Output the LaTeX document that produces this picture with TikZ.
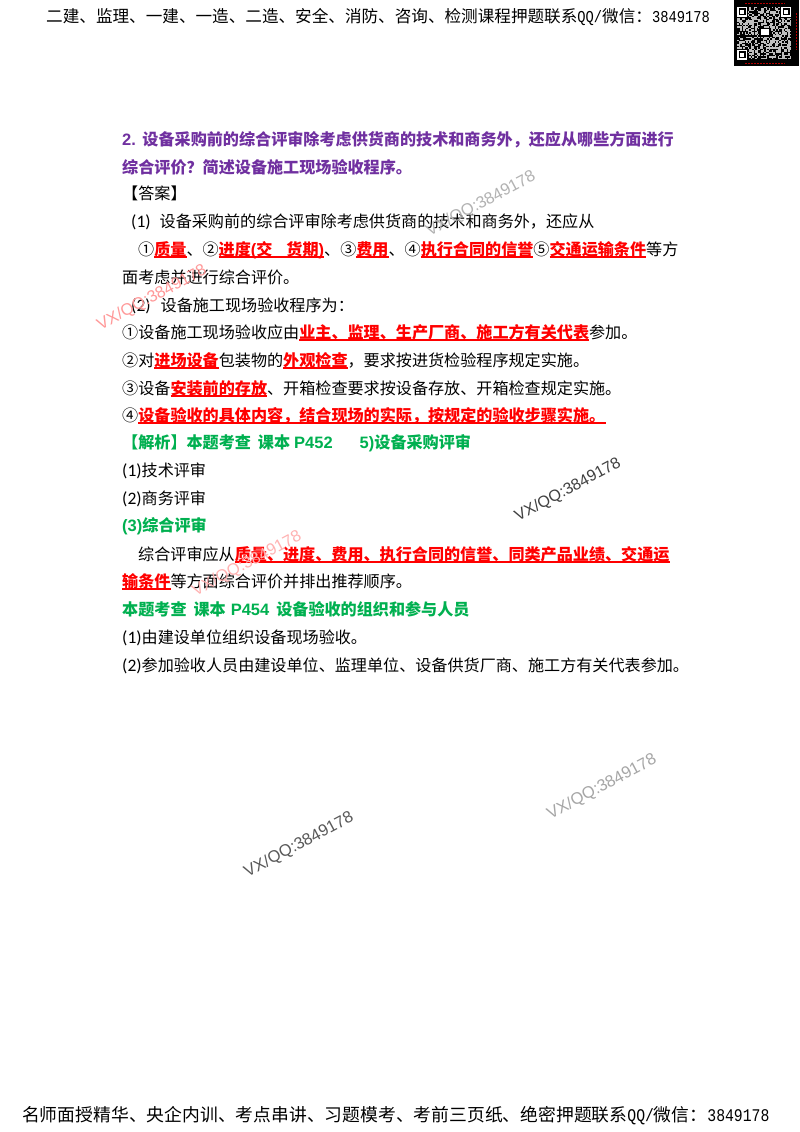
\documentclass[tikz,border=0pt]{standalone}
\usepackage{fontspec}
\setmainfont{Noto Sans CJK SC}
\newfontfamily\lat{Carlito}
\newfontfamily\wm{Liberation Sans}
\newfontfamily\mon{Liberation Mono}
\usepackage{graphicx}
\definecolor{ttl}{HTML}{7030A0}
\definecolor{grn}{HTML}{00B050}
\definecolor{rdd}{HTML}{FF0000}
\newcommand\la[1]{{\lat\fontsize{17.5}{20}\selectfont #1}}
\newcommand\lb[1]{{\wm\bfseries\fontsize{16.5}{20}\selectfont #1}}
\newcommand\hw[1]{\scalebox{0.83}[1]{\mon #1}}
\newcommand\rd[1]{\sbox0{\textcolor{rdd}{\bfseries #1}}\rlap{\textcolor{rdd}{\vrule width\wd0 height -1.2pt depth 2.7pt}}\usebox0}
\tikzset{
  txt/.style={anchor=base west,inner sep=0pt,font=\fontsize{16.1}{20}\selectfont,text=black},
  ttlt/.style={txt,text=ttl,font=\fontsize{16.1}{20}\selectfont\bfseries},
  grnt/.style={txt,text=grn,font=\fontsize{16.1}{20}\selectfont\bfseries},
  mark1/.style={rotate=28,font=\wm\fontsize{16.5}{20}\selectfont,inner sep=0pt},
  hdr/.style={anchor=base west,inner sep=0pt,font=\fontsize{16.6}{20}\selectfont},
  ftr/.style={anchor=base west,inner sep=0pt,font=\fontsize{17.8}{20}\selectfont}
}
\begin{document}
\begin{tikzpicture}[x=1pt,y=-1pt]
\useasboundingbox (0,0) rectangle (800,1132);
\fill[white] (0,0) rectangle (800,1132);
% header
\node[hdr] (h) at (46,23) {二建、监理、一建、一造、二造、安全、消防、咨询、检测课程押题联系\hw{QQ/}微信：\hw{3849178}};
% QR
\fill[black] (734,0) rectangle (799,66);
\pgfmathsetseed{7}
\foreach \i in {0,...,35}{\foreach \j in {0,...,34}{
  \pgfmathparse{rnd>0.5?1:0}
  \ifnum\pgfmathresult=1
    \fill[white!75!black] ({737+\i*1.5},{7+\j*1.5}) rectangle +(1.5,1.5);
  \fi}}
\foreach \x/\y in {737/7,781/7,737/50}{
  \fill[black] (\x-1,\y-1) rectangle +(12,12);
  \fill[white] (\x,\y) rectangle +(10,10);
  \fill[black] (\x+1.5,\y+1.5) rectangle +(7,7);
  \fill[white] (\x+3,\y+3) rectangle +(4,4);
}
\fill[black] (759,28) rectangle +(12,9);
\fill[white] (761,29.5) rectangle +(8,6);
\draw[red!70!black,line width=.8pt,dash pattern=on 1.6pt off 1.4pt] (745,3)--(785,3) (745,63)--(785,63) (796,13)--(796,50);
% body
\node[ttlt] (a1) at (122,145) {\lb{2.}\hspace{6.5pt}设备采购前的综合评审除考虑供货商的技术和商务外，还应从哪些方面进行};
\node[ttlt] (a2) at (122,173) {综合评价？简述设备施工现场验收程序。};
\node[txt] (a3) at (122,199) {【答案】};
\node[txt] (a4) at (131,227) {\la{(1)}\hspace{9pt}设备采购前的综合评审除考虑供货商的技术和商务外，还应从};
\node[txt] (a5) at (138,255) {①\rd{质量}、②\rd{进度\lb{(}交\hspace{14pt}货期\lb{)}}、③\rd{费用}、④\rd{执行合同的信誉}⑤\rd{交通运输条件}等方};
\node[txt] (a6) at (122,283) {面考虑并进行综合评价。};
\node[txt] (a7) at (131,311) {\la{(2)}\hspace{10pt}设备施工现场验收程序为：};
\node[txt] (a8) at (122,338) {①设备施工现场验收应由\rd{业主、监理、生产厂商、施工方有关代表}参加。};
\node[txt] (a9) at (122,366) {②对\rd{进场设备}包装物的\rd{外观检查}，要求按进货检验程序规定实施。};
\node[txt] (a10) at (122,394) {③设备\rd{安装前的存放}、开箱检查要求按设备存放、开箱检查规定实施。};
\node[txt] (a11) at (122,421) {④\rd{设备验收的具体内容，结合现场的实际，按规定的验收步骤实施。\hspace{1pt}}};
\node[grnt] (a12) at (122,448) {【解析】本题考查\hspace{7pt}课本\hspace{4pt}\lb{P452}\hspace{27pt}\lb{5)}设备采购评审};
\node[txt] (a13) at (122,476) {\la{(1)}技术评审};
\node[txt] (a14) at (122,504) {\la{(2)}商务评审};
\node[grnt] (a15) at (122,531) {\lb{(3)}综合评审};
\node[txt] (a16) at (138,560) {综合评审应从\rd{质量、进度、费用、执行合同的信誉、同类产品业绩、交通运}};
\node[txt] (a17) at (122,587) {\rd{输条件}等方面综合评价并排出推荐顺序。};
\node[grnt] (a18) at (122,615) {本题考查\hspace{7pt}课本\hspace{5pt}\lb{P454}\hspace{7pt}设备验收的组织和参与人员};
\node[txt] (a19) at (122,643) {\la{(1)}由建设单位组织设备现场验收。};
\node[txt] (a20) at (122,671) {\la{(2)}参加验收人员由建设单位、监理单位、设备供货厂商、施工方有关代表参加。};
% watermarks
\node[mark1,text=black!30] (w1) at (481,204) {VX/QQ:3849178};
\node[mark1,text=red!40] (w2) at (152,298) {VX/QQ:3849178};
\node[mark1,text=black!75,font=\wm\fontsize{16}{20}\selectfont] (w3) at (568,490) {VX/QQ:3849178};
\node[mark1,text=red!30] (w4) at (247,564) {VX/QQ:3849178};
\node[mark1,text=black!65] (w5) at (299,845) {VX/QQ:3849178};
\node[mark1,text=black!35] (w6) at (602,787) {VX/QQ:3849178};
% footer
\node[ftr] (f) at (22,1121) {名师面授精华、央企内训、考点串讲、习题模考、考前三页纸、绝密押题联系\hw{QQ/}微信：\hw{3849178}};
\end{tikzpicture}
\end{document}
